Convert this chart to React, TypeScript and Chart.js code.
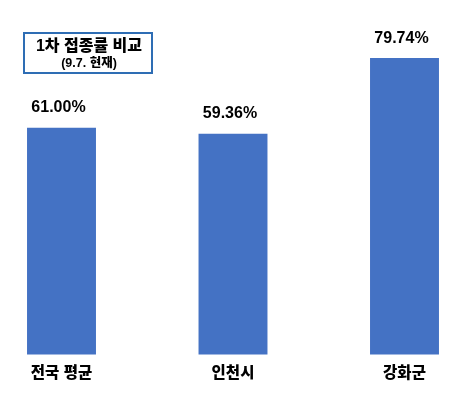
import React, { useEffect, useRef } from "react";
import { Chart, registerables } from "chart.js";

Chart.register(...registerables);

const categories = ["전국 평균", "인천시", "강화군"];
const values = [61.0, 59.36, 79.74];
const valueLabels = ["61.00%", "59.36%", "79.74%"];
const titleLines = ["1차 접종률 비교", "(9.7. 현재)"];

const FONT = "'Liberation Sans', 'Noto Sans CJK KR', sans-serif";

const valueLabelPlugin = {
  id: "valueLabels",
  afterDatasetsDraw(chart: any) {
    const ctx = chart.ctx;
    const meta = chart.getDatasetMeta(0);
    ctx.save();
    ctx.fillStyle = "#000000";
    ctx.font = `bold 16px ${FONT}`;
    ctx.textAlign = "center";
    ctx.textBaseline = "middle";
    meta.data.forEach((bar: any, i: number) => {
      ctx.fillText(valueLabels[i], bar.x - 3, bar.y - 20);
    });
    ctx.restore();
  },
};

const titleBoxPlugin = {
  id: "titleBox",
  afterDraw(chart: any) {
    const ctx = chart.ctx;
    ctx.save();
    ctx.strokeStyle = "#2E6DB4";
    ctx.lineWidth = 2;
    ctx.strokeRect(24, 33, 128, 40);
    ctx.fillStyle = "#000000";
    ctx.textAlign = "center";
    ctx.textBaseline = "middle";
    ctx.font = `900 16px ${FONT}`;
    ctx.fillText(titleLines[0], 89, 47);
    ctx.font = `900 12.5px ${FONT}`;
    ctx.fillText(titleLines[1], 89, 64);
    ctx.restore();
  },
};

export default function App() {
  const canvasRef = useRef<HTMLCanvasElement | null>(null);

  useEffect(() => {
    if (!canvasRef.current) return;
    const chart = new Chart(canvasRef.current, {
      type: "bar",
      data: {
        labels: categories,
        datasets: [
          {
            data: values,
            backgroundColor: "#4472C4",
            borderWidth: 0,
            barPercentage: 0.402,
            categoryPercentage: 1,
            clip: false as any,
          },
        ],
      },
      options: {
        responsive: false,
        animation: false,
        layout: { padding: { left: 61.5, right: 59.5, top: 20, bottom: 12 } },
        plugins: {
          legend: { display: false },
          tooltip: { enabled: false },
          title: { display: false },
        },
        scales: {
          x: {
            type: "category",
            offset: false,
            grid: { display: false, drawTicks: false },
            border: { display: false },
            ticks: {
              color: "#000000",
              font: { family: FONT, size: 15.5, weight: "900" },
              padding: 10,
              maxRotation: 0,
              autoSkip: false,
            },
          },
          y: {
            display: false,
            min: 0,
            max: 90,
          },
        },
      },
      plugins: [valueLabelPlugin, titleBoxPlugin],
    });
    return () => chart.destroy();
  }, []);

  return (
    <div style={{ position: "absolute", left: 0, top: 0, width: 464, height: 405, background: "#ffffff" }}>
      <canvas ref={canvasRef} width={464} height={405} />
    </div>
  );
}
